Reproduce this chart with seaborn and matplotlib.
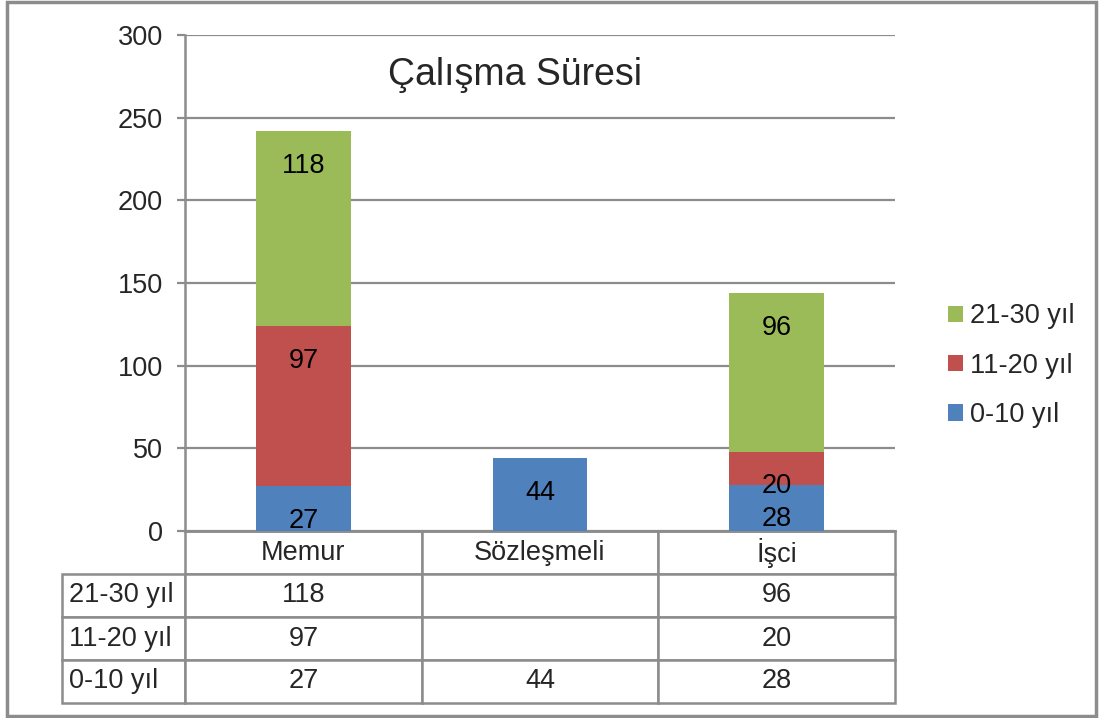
import matplotlib
matplotlib.use("Agg")
import matplotlib.pyplot as plt
import seaborn as sns
from matplotlib.patches import Rectangle

# veriler
kategoriler = ["Memur", "Sözleşmeli", "İşci"]
seriler = ["0-10 yıl", "11-20 yıl", "21-30 yıl"]
yil_0_10 = [27, 44, 28]
yil_11_20 = [97, 0, 20]
yil_21_30 = [118, 0, 96]
renkler = ["#4F81BD", "#C0504D", "#9BBB59"]
baslik = "Çalışma Süresi"
y_ticks = [0, 50, 100, 150, 200, 250, 300]

sns.set_style("white")
plt.rcParams["font.family"] = ["Liberation Sans", "DejaVu Sans"]
gri = "#8c8c8c"
fs = 19.5

fig = plt.figure(figsize=(10.99, 7.18), dpi=100)
W, H = 1099, 718
ax = fig.add_axes([185 / W, (H - 531) / H, 710 / W, 496 / H])

degerler = [yil_0_10, yil_11_20, yil_21_30]
# kümülatif toplamlar (yığılmış çubuklar için)
kum = []
toplam = [0, 0, 0]
for seri in degerler:
    toplam = [t + v for t, v in zip(toplam, seri)]
    kum.append(list(toplam))

# en uzundan başlayarak çiz, kısa olanlar üstüne binsin
for idx in [2, 1, 0]:
    sns.barplot(x=kategoriler, y=kum[idx], color=renkler[idx], width=0.4,
                saturation=1, label=seriler[idx], ax=ax, zorder=3,
                edgecolor="none", linewidth=0)

# değer etiketleri (iç uç)
for idx in range(3):
    for i, v in enumerate(degerler[idx]):
        if v:
            ax.annotate(str(v), (i, kum[idx][i]), xytext=(0, -25),
                        textcoords="offset points", ha="center", va="center",
                        fontsize=fs, color="black", zorder=5)

ax.set_ylim(0, 300)
ax.set_xlim(-0.5, 2.5)
ax.set_yticks(y_ticks)
ax.yaxis.grid(True, color=gri, linewidth=1.6, zorder=0)
ax.xaxis.grid(False)
ax.tick_params(axis="y", labelsize=fs, length=6, width=1.6, color=gri, pad=10,
               left=True)
ax.tick_params(axis="x", length=0, labelbottom=False)
ax.set_xlabel("")
ax.set_ylabel("")
for s in ["top", "right"]:
    ax.spines[s].set_visible(False)
for s in ["left", "bottom"]:
    ax.spines[s].set_color(gri)
    ax.spines[s].set_linewidth(1.8)

ax.text(0.465, 0.919, baslik, transform=ax.transAxes, ha="center",
        va="center", fontsize=27)

# legend
handles, labels = ax.get_legend_handles_labels()
ax.legend(handles, labels, loc="upper left",
          bbox_to_anchor=(924 / W, 1 - 279 / H), bbox_transform=fig.transFigure,
          frameon=False, fontsize=fs, handlelength=0.55, handleheight=0.55,
          handletextpad=0.25, labelspacing=0.86)

# veri tablosu
satirlar = []
for idx in [2, 1, 0]:
    satirlar.append([seriler[idx]] + [str(v) if v else "" for v in degerler[idx]])
etiket_w = 123 / 710
tablo = ax.table(cellText=satirlar, colLabels=[""] + kategoriler,
                 colWidths=[etiket_w, 1 / 3, 1 / 3, 1 / 3], cellLoc="center",
                 bbox=[-etiket_w, -(703 - 531) / 496, 1 + etiket_w, (703 - 531) / 496])
tablo.auto_set_font_size(False)
tablo.set_fontsize(fs)
for (r, c), cell in tablo.get_celld().items():
    cell.set_edgecolor(gri)
    cell.set_linewidth(1.8)
    if r == 0 and c == 0:
        cell.visible_edges = ""
    if c == 0 and r > 0:
        cell.set_text_props(ha="left")
        cell.PAD = 0.06

fig.patches.append(Rectangle((7 / W, 2 / H), (1096 - 7) / W, (716 - 2) / H,
                             transform=fig.transFigure, fill=False,
                             edgecolor=gri, linewidth=2.5))

fig.savefig("out.png", dpi=100)
